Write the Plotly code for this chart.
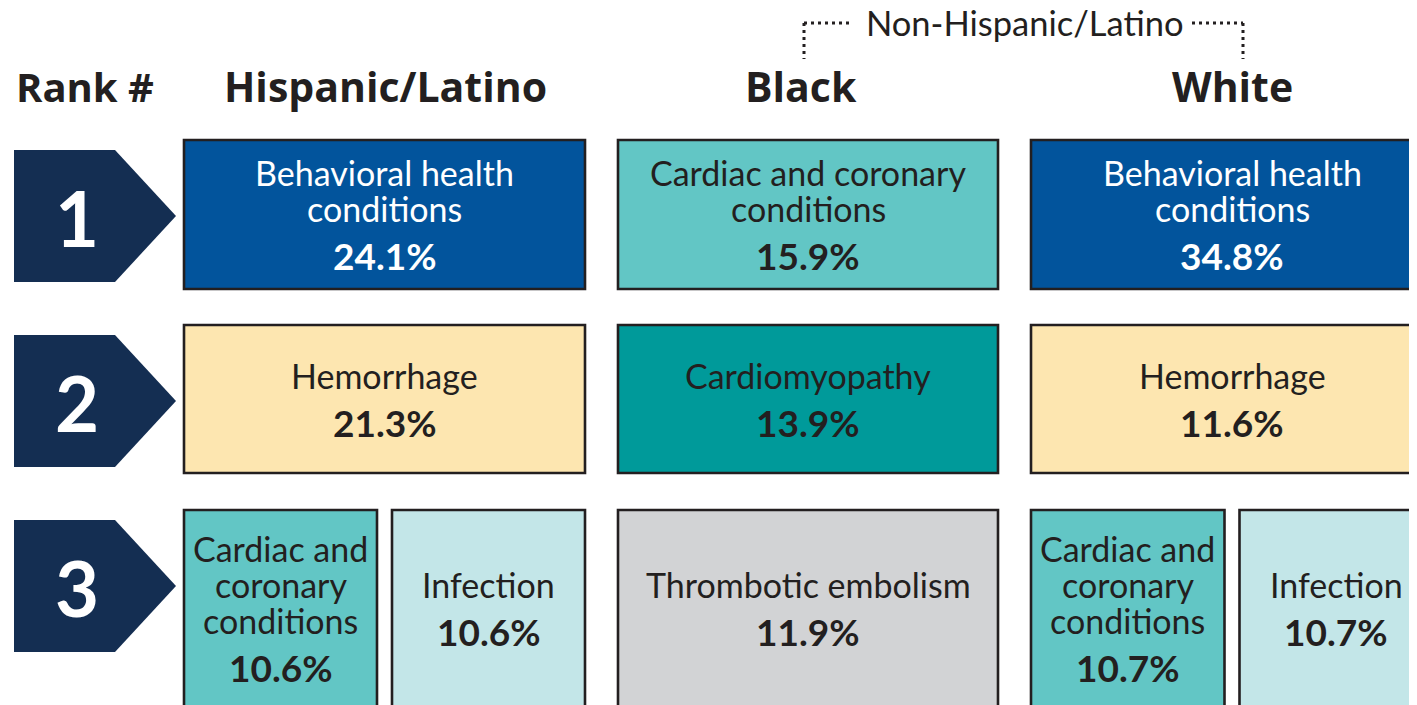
import textwrap
import plotly.graph_objects as go

# ---------------- data ----------------
groups = ["Hispanic/Latino", "Black", "White"]
ranks = [1, 2, 3]

hispanic_causes = [["Behavioral health conditions"], ["Hemorrhage"],
                   ["Cardiac and coronary conditions", "Infection"]]
hispanic_pcts = [[24.1], [21.3], [10.6, 10.6]]

black_causes = [["Cardiac and coronary conditions"], ["Cardiomyopathy"],
                ["Thrombotic embolism"]]
black_pcts = [[15.9], [13.9], [11.9]]

white_causes = [["Behavioral health conditions"], ["Hemorrhage"],
                ["Cardiac and coronary conditions", "Infection"]]
white_pcts = [[34.8], [11.6], [10.7, 10.7]]

group_causes = [hispanic_causes, black_causes, white_causes]
group_pcts = [hispanic_pcts, black_pcts, white_pcts]

cause_colors = {
    "Behavioral health conditions": "#02549c",
    "Hemorrhage": "#fde6b0",
    "Cardiac and coronary conditions": "#62c6c5",
    "Infection": "#c3e6e8",
    "Cardiomyopathy": "#009a9a",
    "Thrombotic embolism": "#d2d3d5",
}
white_text_causes = ["Behavioral health conditions"]

super_header = "Non-Hispanic/Latino"
rank_header = "Rank #"

# ---------------- layout constants ----------------
W, H = 1417, 705
PAGE_MARGIN = 8  # default body margin of the html page
NAVY = "#142e52"
INK = "#231f20"
col_x = [(184, 585), (618, 998), (1031, 1433)]
header_x = [385, 801, 1232]
row_y = [(140, 289), (325, 473), (510, 730)]
split_gap = 15
arrow_x = (14, 115, 176)
box_font = "Lato, Roboto, sans-serif"
head_font = "Open Sans, Lato, sans-serif"

shapes = []
annotations = []

# rank arrows
for i, r in enumerate(ranks):
    cy = row_y[i][0] + 76
    x0, x1, x2 = arrow_x
    path = f"M {x0},{cy-66} L {x1},{cy-66} L {x2},{cy} L {x1},{cy+66} L {x0},{cy+66} Z"
    shapes.append(dict(type="path", path=path, xref="x", yref="y",
                       fillcolor=NAVY, line=dict(width=0)))
    annotations.append(dict(x=77, y=cy + 1, text=f"<b>{r}</b>", showarrow=False,
                            xref="x", yref="y", xanchor="center", yanchor="middle",
                            font=dict(family="Lato, sans-serif", size=76, color="white")))

# headers
annotations.append(dict(x=14, y=86, text=f"<b>{rank_header}</b>", showarrow=False,
                        xref="x", yref="y", xanchor="left", yanchor="middle",
                        font=dict(family=head_font, size=40, color=INK)))
for g, hx in zip(groups, header_x):
    annotations.append(dict(x=hx, y=86, text=f"<b>{g}</b>", showarrow=False,
                            xref="x", yref="y", xanchor="center", yanchor="middle",
                            font=dict(family=head_font, size=41, color=INK)))

# super header with dotted bracket
annotations.append(dict(x=1024.5, y=22, text=super_header, showarrow=False,
                        xref="x", yref="y", xanchor="center", yanchor="middle",
                        font=dict(family="Lato, sans-serif", size=34.5, color=INK)))
dot = dict(color=INK, width=3, dash="3px,4px")
for (xa, ya, xb, yb) in [(804, 23, 853, 23), (804, 23, 804, 59),
                         (1192, 23, 1243, 23), (1243, 23, 1243, 59)]:
    shapes.append(dict(type="line", x0=xa, y0=ya, x1=xb, y1=yb, xref="x", yref="y",
                       line=dot))

# cells
for gi, (causes, pcts) in enumerate(zip(group_causes, group_pcts)):
    cx0, cx1 = col_x[gi]
    for ri in range(len(ranks)):
        y0, y1 = row_y[ri]
        n = len(causes[ri])
        cw = (cx1 - cx0 - split_gap * (n - 1)) / n
        for ci, (cause, pct) in enumerate(zip(causes[ri], pcts[ri])):
            bx0 = cx0 + ci * (cw + split_gap)
            bx1 = bx0 + cw
            shapes.append(dict(type="rect", x0=bx0, x1=bx1, y0=y0, y1=y1,
                               xref="x", yref="y", fillcolor=cause_colors[cause],
                               line=dict(color=INK, width=2.6)))
            tcol = "white" if cause in white_text_causes else INK
            lines = textwrap.wrap(cause, 20 if n == 1 else 11)
            block = 36 * (len(lines) - 1) + 48
            cy = (y0 + min(y1, 706)) / 2
            first = cy - block / 2
            xc = (bx0 + bx1) / 2
            for li, ln in enumerate(lines):
                annotations.append(dict(x=xc, y=first + 36 * li, text=ln, showarrow=False,
                                        xref="x", yref="y", xanchor="center",
                                        yanchor="middle",
                                        font=dict(family=box_font, size=34, color=tcol)))
            annotations.append(dict(x=xc, y=first + 36 * (len(lines) - 1) + 47,
                                    text=f"<b>{pct:.1f}%</b>", showarrow=False,
                                    xref="x", yref="y", xanchor="center", yanchor="middle",
                                    font=dict(family=box_font, size=37, color=tcol)))

fig = go.Figure()
fig.update_layout(
    width=W, height=H, autosize=False,
    margin=dict(l=0, r=0, t=0, b=0, pad=0),
    paper_bgcolor="white", plot_bgcolor="white",
    xaxis=dict(range=[PAGE_MARGIN, W + PAGE_MARGIN], visible=False, fixedrange=True),
    yaxis=dict(range=[H + PAGE_MARGIN, PAGE_MARGIN], visible=False, fixedrange=True),
    shapes=shapes, annotations=annotations, showlegend=False,
)
fig.write_html("out.html", config={"displayModeBar": False})
